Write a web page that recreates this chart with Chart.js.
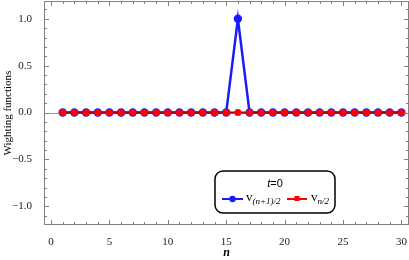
<!DOCTYPE html>
<html>
<head>
<meta charset="utf-8">
<script src="https://cdn.jsdelivr.net/npm/chart.js@4"></script>
<style>
  html, body { margin: 0; padding: 0; background: #fff; }
  #wrap { width: 409px; height: 260px; }
</style>
</head>
<body>
<div id="wrap"><canvas id="chart"></canvas></div>
<script>
// data
const nValues = [1, 2, 3, 4, 5, 6, 7, 8, 9, 10, 11, 12, 13, 14, 15, 16, 17, 18, 19, 20, 21, 22, 23, 24, 25, 26, 27, 28, 29, 30];
const vOdd = [0, 0, 0, 0, 0, 0, 0, 0, 0, 0, 0, 0, 0, 0, 0, 1, 0, 0, 0, 0, 0, 0, 0, 0, 0, 0, 0, 0, 0, 0];
const vEven = [0, 0, 0, 0, 0, 0, 0, 0, 0, 0, 0, 0, 0, 0, 0, 0, 0, 0, 0, 0, 0, 0, 0, 0, 0, 0, 0, 0, 0, 0];
const xTicks = [0, 5, 10, 15, 20, 25, 30];
const yTicks = [-1.0, -0.5, 0.0, 0.5, 1.0];
const legendTitle = "t=0";

const frameColor = "#808080";

function toPoints(vals) {
    return nValues.map((n, i) => ({ x: n, y: vals[i] }));
}

// frame, inward ticks, zero axis and legend box
const framePlugin = {
    id: "frame",
    beforeDatasetsDraw(chart) {
        const ctx = chart.ctx, a = chart.chartArea, y = chart.scales.y;
        ctx.save();
        ctx.strokeStyle = "#a0a0a0";
        ctx.lineWidth = 1;
        const y0 = Math.round(y.getPixelForValue(0)) + 0.5;
        ctx.beginPath();
        ctx.moveTo(a.left, y0);
        ctx.lineTo(a.right, y0);
        ctx.stroke();
        ctx.restore();
    },
    afterDraw(chart) {
        const ctx = chart.ctx, a = chart.chartArea;
        const x = chart.scales.x, y = chart.scales.y;
        ctx.save();
        ctx.strokeStyle = frameColor;
        ctx.lineWidth = 1;
        ctx.strokeRect(a.left + 0.5, a.top + 0.5, a.right - a.left - 1, a.bottom - a.top - 1);

        ctx.beginPath();
        for (let v = 0; v <= 30; v++) {
            const px = Math.round(x.getPixelForValue(v)) + 0.5;
            const len = v % 5 === 0 ? 5 : 3;
            ctx.moveTo(px, a.bottom); ctx.lineTo(px, a.bottom - len);
            ctx.moveTo(px, a.top); ctx.lineTo(px, a.top + len);
        }
        for (let k = -11; k <= 11; k++) {
            const py = Math.round(y.getPixelForValue(k / 10)) + 0.5;
            const len = k % 5 === 0 ? 5 : 3;
            ctx.moveTo(a.left, py); ctx.lineTo(a.left + len, py);
            ctx.moveTo(a.right, py); ctx.lineTo(a.right - len, py);
        }
        ctx.stroke();

        // legend
        const bx = 215, by = 171, bw = 120, bh = 42, r = 8;
        ctx.fillStyle = "#fff";
        ctx.strokeStyle = "#000";
        ctx.lineWidth = 1.5;
        ctx.beginPath();
        ctx.roundRect(bx, by, bw, bh, r);
        ctx.fill();
        ctx.stroke();

        ctx.fillStyle = "#000";
        ctx.textBaseline = "alphabetic";
        ctx.textAlign = "left";
        ctx.font = "italic 11px 'Liberation Sans'";
        const tW = ctx.measureText("t").width;
        ctx.font = "11px 'Liberation Sans'";
        const restW = ctx.measureText("=0").width;
        let tx = bx + bw / 2 - (tW + restW) / 2;
        ctx.font = "italic 11px 'Liberation Sans'";
        ctx.fillText(legendTitle.charAt(0), tx, by + 16);
        ctx.font = "11px 'Liberation Sans'";
        ctx.fillText(legendTitle.slice(1), tx + tW, by + 16);

        const ly = by + 28;
        // blue entry
        ctx.strokeStyle = "#1a1aff";
        ctx.lineWidth = 2;
        ctx.beginPath(); ctx.moveTo(222, ly); ctx.lineTo(243, ly); ctx.stroke();
        ctx.fillStyle = "#1a1aff";
        ctx.beginPath(); ctx.arc(232.5, ly, 3.2, 0, Math.PI * 2); ctx.fill();
        // red entry
        ctx.strokeStyle = "#ff0000";
        ctx.beginPath(); ctx.moveTo(287, ly); ctx.lineTo(307, ly); ctx.stroke();
        ctx.fillStyle = "#ff0000";
        ctx.fillRect(294.5, ly - 3, 5, 5);

        ctx.fillStyle = "#000";
        ctx.font = "13px 'Liberation Serif'";
        ctx.fillText("v", 246, ly + 2);
        ctx.fillText("v", 311, ly + 2);
        ctx.font = "italic 9px 'Liberation Serif'";
        ctx.fillText("(n+1)/2", 252.5, ly + 5);
        ctx.fillText("n/2", 317.5, ly + 5);
        ctx.restore();
    }
};

const ctx = document.getElementById("chart");

new Chart(ctx, {
    type: "line",
    data: {
        datasets: [
            {
                label: "v(n+1)/2",
                data: toPoints(vOdd),
                borderColor: "#1a1aff",
                backgroundColor: "#1a1aff",
                borderWidth: 2.5,
                pointRadius: 4.2,
                pointBorderWidth: 0,
                order: 1
            },
            {
                label: "vn/2",
                data: toPoints(vEven),
                borderColor: "#8a0a2a",
                backgroundColor: "#ff0000",
                borderWidth: 2,
                pointRadius: 3.5,
                pointBorderWidth: 0,
                order: 0
            }
        ]
    },
    options: {
        responsive: true,
        maintainAspectRatio: false,
        animation: false,
        events: [],
        layout: { autoPadding: false, padding: { top: 1, right: 0, left: 0, bottom: 0 } },
        plugins: {
            legend: { display: false },
            tooltip: { enabled: false }
        },
        elements: { line: { tension: 0 } },
        scales: {
            x: {
                type: "linear",
                min: -0.6,
                max: 30.65,
                afterBuildTicks: (s) => { s.ticks = xTicks.map(v => ({ value: v })); },
                afterFit: (s) => { s.height = 35; s.paddingLeft = 0; s.paddingRight = 0; },
                grid: { display: false },
                border: { display: false },
                ticks: {
                    padding: 3,
                    color: "#222",
                    font: { family: "Liberation Serif", size: 11 },
                    callback: (v) => String(v)
                },
                title: {
                    display: true,
                    text: "n",
                    color: "#000",
                    padding: { top: 0, bottom: 0 },
                    font: { family: "Liberation Serif", size: 12, style: "italic", weight: "bold" }
                }
            },
            y: {
                type: "linear",
                min: -1.2,
                max: 1.19,
                afterBuildTicks: (s) => { s.ticks = yTicks.map(v => ({ value: v })); },
                afterFit: (s) => { s.width = 44; s.paddingTop = 0; s.paddingBottom = 0; },
                grid: { display: false },
                border: { display: false },
                ticks: {
                    padding: 4,
                    color: "#222",
                    font: { family: "Liberation Serif", size: 11 },
                    callback: (v) => (v < 0 ? "\u2212" : "") + Math.abs(v).toFixed(1)
                },
                title: {
                    display: true,
                    text: "Wighting functions",
                    color: "#000",
                    padding: { top: 2, bottom: 0 },
                    font: { family: "Liberation Serif", size: 11 }
                }
            }
        }
    },
    plugins: [framePlugin]
});
</script>
</body>
</html>
